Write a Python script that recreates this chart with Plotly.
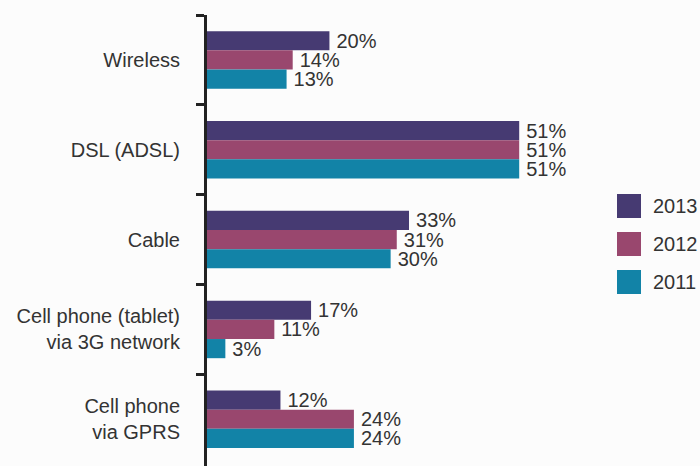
import plotly.graph_objects as go

categories = ["Wireless", "DSL (ADSL)", "Cable", "Cell phone (tablet)<br>via 3G network", "Cell phone<br>via GPRS"]
series_names = ["2013", "2012", "2011"]
values_2013 = [20, 51, 33, 17, 12]
values_2012 = [14, 51, 31, 11, 24]
values_2011 = [13, 51, 30, 3, 24]
colors = {"2013": "#463A72", "2012": "#99476E", "2011": "#1283A7"}

series_values = {"2013": values_2013, "2012": values_2012, "2011": values_2011}

W, H = 700, 466
ML, MR, MT, MB = 207, 100, 15, 0
plot_w = W - ML - MR
plot_h = H - MT - MB
FONT = "Liberation Sans"

fig = go.Figure()
for name in series_names:
    fig.add_trace(go.Bar(
        y=categories, x=series_values[name], orientation="h", name=name,
        marker=dict(color=colors[name], line=dict(width=0)),
        text=[f"\u2009{v}%" for v in series_values[name]], textposition="outside",
        textfont=dict(size=20, color="#333333", family=FONT),
        constraintext="none",
        cliponaxis=False, showlegend=False,
    ))

# manual legend (large squares)
for i, name in enumerate(series_names):
    top_px = 194 + i * 38
    x0 = (617 - ML) / plot_w
    x1 = (641 - ML) / plot_w
    y1 = (H - MB - top_px) / plot_h
    y0 = (H - MB - (top_px + 24)) / plot_h
    fig.add_shape(type="rect", xref="paper", yref="paper", x0=x0, x1=x1, y0=y0, y1=y1,
                  fillcolor=colors[name], line=dict(width=0))
    fig.add_annotation(xref="paper", yref="paper", x=(651 - ML) / plot_w, y=(y0 + y1) / 2,
                       text=name, showarrow=False, xanchor="left", yanchor="middle",
                       font=dict(size=20, color="#333333", family=FONT))

fig.update_layout(
    width=W, height=H,
    margin=dict(l=ML, r=MR, t=MT, b=MB, pad=0, autoexpand=False),
    paper_bgcolor="#fcfcfc", plot_bgcolor="#fcfcfc",
    barmode="group", bargap=0.36, bargroupgap=0,
    font=dict(family=FONT, size=20, color="#333333"),
    showlegend=False, uniformtext=dict(minsize=20, mode="show"),
)
fig.update_xaxes(range=[0, 64.2], visible=False, showgrid=False, zeroline=False)
fig.update_yaxes(
    type="category", range=[4.52, -0.5], tickson="boundaries", automargin=False,
    ticks="outside", ticklen=8, tickwidth=3, tickcolor="#222222",
    showline=True, linewidth=3, linecolor="#222222",
    showgrid=False, zeroline=False, ticklabelstandoff=20,
    tickfont=dict(size=20, color="#333333", family=FONT),
)

fig.write_html("out.html", config={"displayModeBar": False},
               post_script="document.body.style.margin='0';document.body.style.background='#fcfcfc';")
